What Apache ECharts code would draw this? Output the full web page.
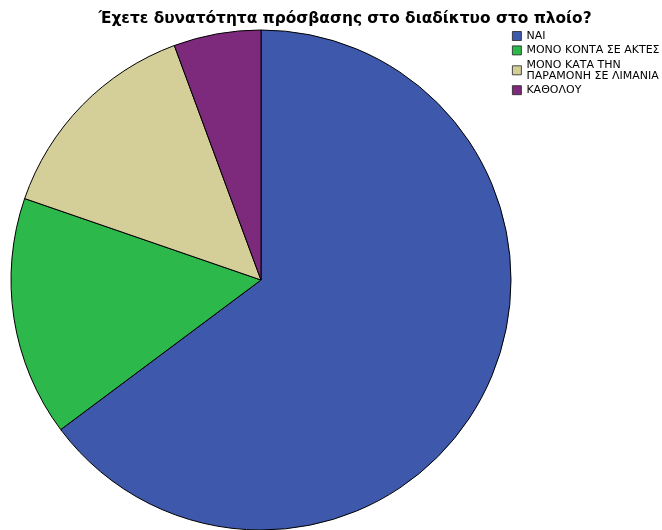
<!DOCTYPE html>
<html>
<head>
<meta charset="utf-8">
<script src="https://cdn.jsdelivr.net/npm/echarts@6/dist/echarts.min.js"></script>
<style>html,body{margin:0;padding:0;background:#fff;}#c{width:662px;height:530px;}</style>
</head>
<body>
<div id="c"></div>
<script>
const titleText = 'Έχετε δυνατότητα πρόσβασης στο διαδίκτυο στο πλοίο?';
const categories = ['ΝΑΙ', 'ΜΟΝΟ ΚΟΝΤΑ ΣΕ ΑΚΤΕΣ', 'ΜΟΝΟ ΚΑΤΑ ΤΗΝ ΠΑΡΑΜΟΝΗ ΣΕ ΛΙΜΑΝΙΑ', 'ΚΑΘΟΛΟΥ'];
const values = [46, 11, 10, 4];
const colors = ['#3E58AC', '#2DB84B', '#D4CE99', '#7D2A7D'];

const chart = echarts.init(document.getElementById('c'));
chart.setOption({
  animation: false,
  backgroundColor: '#fff',
  title: {
    text: titleText,
    left: 340, top: 6, textAlign: 'center',
    textStyle: { fontFamily: 'DejaVu Sans', fontWeight: 'bold', fontSize: 15.4, color: '#000' }
  },
  legend: {
    orient: 'vertical', left: 512, top: 30.5, padding: 0,
    itemWidth: 9, itemHeight: 9, itemGap: 3.4,
    icon: 'rect',
    itemStyle: { borderColor: '#222', borderWidth: 0.8 },
    formatter: n => n === categories[2] ? 'ΜΟΝΟ ΚΑΤΑ ΤΗΝ\nΠΑΡΑΜΟΝΗ ΣΕ ΛΙΜΑΝΙΑ' : n,
    textStyle: { fontFamily: 'DejaVu Sans', fontSize: 11, lineHeight: 11, color: '#000' },
    data: categories
  },
  series: [{
    type: 'pie',
    center: [261, 280], radius: 250,
    startAngle: 90, clockwise: true,
    label: { show: false }, labelLine: { show: false },
    emphasis: { disabled: true },
    itemStyle: { borderColor: '#000', borderWidth: 1 },
    data: categories.map((c, i) => ({ name: c, value: values[i], itemStyle: { color: colors[i] } }))
  }]
});
</script>
</body>
</html>
